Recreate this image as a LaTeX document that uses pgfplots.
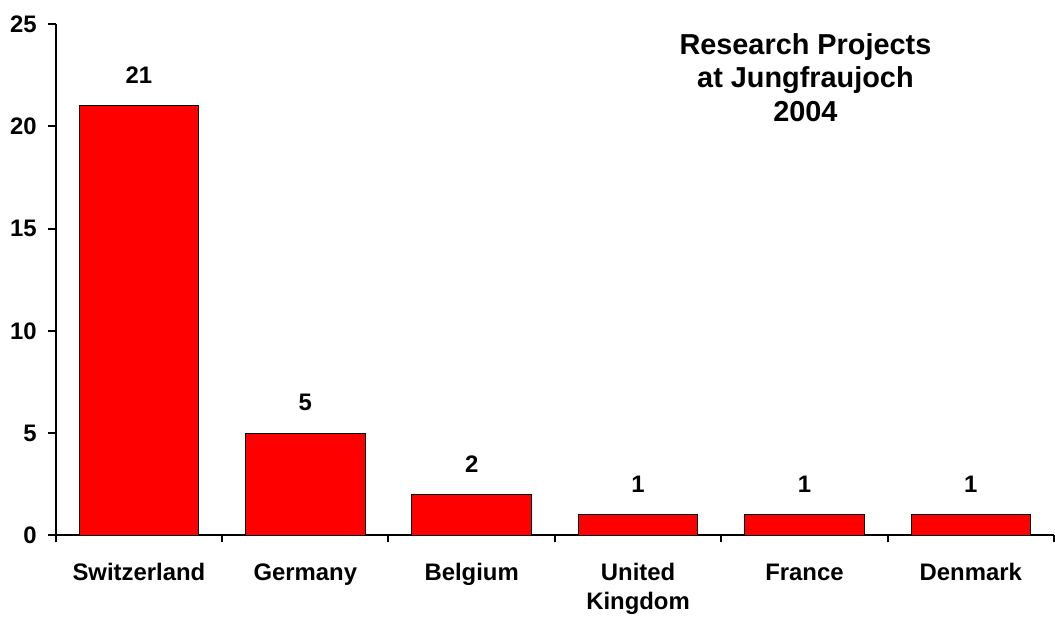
\documentclass[border=0pt]{standalone}
\usepackage{fontspec}
\setmainfont{Liberation Sans}
\usepackage{pgfplots}
\pgfplotsset{compat=1.18}
\begin{document}
\begin{tikzpicture}
\begin{axis}[
    at={(0,0)}, anchor=south west,
    scale only axis,
    width=501.5pt, height=257pt,
    ybar, bar width=60pt, bar shift=0pt,
    xmin=-0.5, xmax=5.5, ymin=0, ymax=25,
    axis x line=bottom, axis y line=left,
    axis line style={-, line width=1pt, black},
    ytick={0,5,...,25},
    xtick={0,...,5},
    xticklabels={\strut Switzerland,\strut Germany,\strut Belgium,
                 {\strut United\\\strut Kingdom},\strut France,\strut Denmark},
    minor xtick={-0.5,0.5,...,5.5},
    tick align=outside,
    major tick length=4pt, minor tick length=3.5pt,
    every major x tick/.append style={draw=none},
    every minor x tick/.append style={line width=1pt, black},
    every major y tick/.append style={line width=1pt, black},
    /pgf/number format/assume math mode=true,
    tick label style={font=\bfseries\fontsize{12}{14.5}\selectfont},
    xticklabel style={align=center, yshift=-5pt},
    yticklabel style={xshift=-2pt},
    clip=false,
    nodes near coords,
    nodes near coords style={font=\bfseries\fontsize{12}{14}\selectfont, yshift=7.5pt},
  ]
  \addplot[fill=red, draw=black, line width=0.5pt] coordinates {
    (0,21) (1,5) (2,2) (3,1) (4,1) (5,1)
  };
  \node[anchor=north, align=center, inner sep=0pt,
        font=\bfseries\fontsize{14.5}{17}\selectfont]
    at (rel axis cs:0.751,0.9825) {Research Projects\\at Jungfraujoch\\2004};
\end{axis}
\useasboundingbox (-28pt,-41.5pt) rectangle (499.5pt,269pt);
\end{tikzpicture}
\end{document}
